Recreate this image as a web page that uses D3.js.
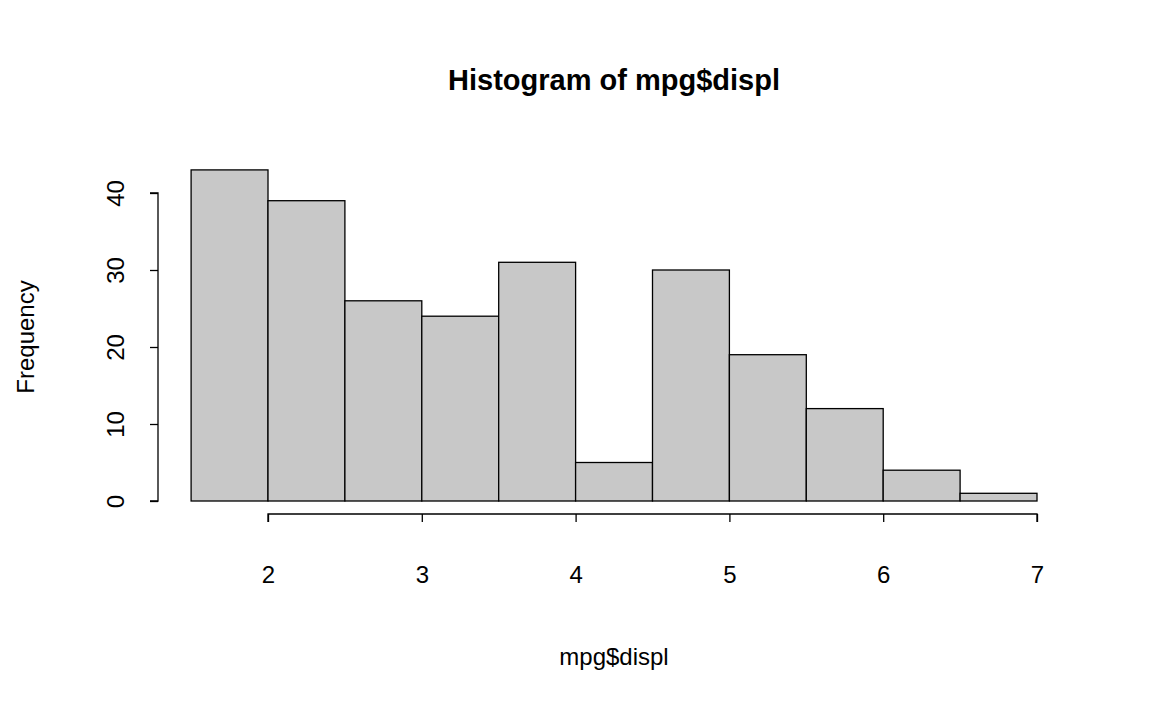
<!DOCTYPE html>
<html><head><meta charset="utf-8">
<script src="https://cdn.jsdelivr.net/npm/d3@7"></script>
<style>body{margin:0;background:#fff}text{font-family:"Liberation Sans",Arial,sans-serif;fill:#000}</style>
</head><body>
<script>
const binStarts = [1.5,2,2.5,3,3.5,4,4.5,5,5.5,6,6.5];
const binWidth = 0.5;
const counts = [43,39,26,24,31,5,30,19,12,4,1];
const xTicks = [2,3,4,5,6,7];
const yTicks = [0,10,20,30,40];

const W=1152,H=711;
const svg=d3.select("body").append("svg").attr("width",W).attr("height",H);
const x=d3.scaleLinear().domain([2,7]).range([268,1037]);
const y=d3.scaleLinear().domain([0,40]).range([501,193]);

svg.selectAll("rect.bar").data(counts).enter().append("rect")
 .attr("x",(d,i)=>x(binStarts[i])).attr("width",(d,i)=>x(binStarts[i]+binWidth)-x(binStarts[i]))
 .attr("y",d=>y(d)).attr("height",d=>y(0)-y(d))
 .attr("fill","#c8c8c8").attr("stroke","#000").attr("stroke-width",1.3);

const xa=svg.append("g").attr("transform","translate(0,514)")
 .call(d3.axisBottom(x).tickValues(xTicks).tickSize(8).tickPadding(44).tickFormat(d3.format("d")));
const ya=svg.append("g").attr("transform","translate(158,0)")
 .call(d3.axisLeft(y).tickValues(yTicks).tickSize(8).tickFormat(d3.format("d")));
[xa,ya].forEach(a=>{a.selectAll("path,line").attr("stroke","#000").attr("stroke-width",1.3);
 a.selectAll("text").style("font-size","24px").style("font-family","Liberation Sans, Arial, sans-serif");});
ya.select("path").attr("d","M-8,501H0V193H-8");
xa.select("path").attr("d","M268,8V0H1037V8");
ya.selectAll(".tick text").attr("text-anchor","middle").attr("x",0).attr("dy",0)
 .attr("transform","translate(-42,0) rotate(-90) translate(0,8)");

svg.append("text").attr("x",614).attr("y",90).attr("text-anchor","middle")
 .style("font-size","29px").attr("font-weight","bold").text("Histogram of mpg$displ");
svg.append("text").attr("x",614).attr("y",665).attr("text-anchor","middle")
 .style("font-size","24px").text("mpg$displ");
svg.append("text").attr("transform","translate(34,337) rotate(-90)").attr("text-anchor","middle")
 .style("font-size","24px").text("Frequency");
</script>
</body></html>
